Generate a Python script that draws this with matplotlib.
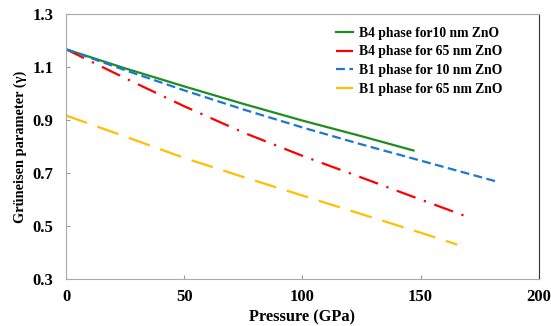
import numpy as np
import matplotlib
matplotlib.use("Agg")
import matplotlib.pyplot as plt

# valores
p_b4_10 = [0, 25, 50, 75, 100, 125, 147]
g_b4_10 = [1.167, 1.095, 1.027, 0.961, 0.898, 0.839, 0.785]

p_b4_65 = [0, 25, 50, 75, 100, 125, 150, 169.5]
g_b4_65 = [1.167, 1.058, 0.952, 0.853, 0.765, 0.683, 0.60, 0.536]

p_b1_10 = [0, 25, 50, 75, 100, 125, 150, 183]
g_b1_10 = [1.167, 1.088, 1.012, 0.94, 0.872, 0.808, 0.747, 0.666]

p_b1_65 = [0, 25, 50, 75, 100, 125, 150, 165.5]
g_b1_65 = [0.917, 0.838, 0.757, 0.685, 0.615, 0.545, 0.475, 0.43]

labels = ["B4 phase for10 nm ZnO", "B4 phase for 65 nm ZnO",
          "B1 phase for 10 nm ZnO", "B1 phase for 65 nm ZnO"]

plt.rcParams["font.family"] = ["Liberation Serif", "DejaVu Serif"]
plt.rcParams["font.weight"] = "bold"

fig = plt.figure(figsize=(5.51, 3.26), dpi=100)
ax = fig.add_axes([0.1198, 0.144, 0.858, 0.813])

ax.plot(p_b4_10, g_b4_10, color="#1e8c1e", lw=1.6, label=labels[0])
ax.plot(p_b4_65, g_b4_65, color="#ff0000", lw=1.6, dashes=(9, 4, 1, 4), label=labels[1])
ax.plot(p_b1_10, g_b1_10, color="#1a78d0", lw=1.6, dashes=(4, 2), label=labels[2])
ax.plot(p_b1_65, g_b1_65, color="#ffc000", lw=1.6, dashes=(10, 5), label=labels[3])

ax.set_xlim(0, 200)
ax.set_ylim(0.3, 1.3)
ax.set_xticks([0, 50, 100, 150, 200])
ax.set_yticks(np.arange(0.3, 1.31, 0.2))
ax.set_yticklabels(["0.3", "0.5", "0.7", "0.9", "1.1", "1.3"])
ax.tick_params(direction="in", length=3, labelsize=12, color="#999999")
ax.tick_params(axis="y", pad=9)
ax.tick_params(axis="x", pad=7)

for s in ["left", "bottom", "top"]:
    ax.spines[s].set_color("#aaaaaa")
ax.spines["right"].set_color("#333333")

ax.set_xlabel("Pressure (GPa)", fontsize=11.8, fontweight="bold", labelpad=3)
ax.set_ylabel("Grüneisen parameter (γ)", fontsize=10.4, fontweight="bold", labelpad=4)

ax.legend(loc="upper left", bbox_to_anchor=(0.571, 0.952), frameon=False,
          borderpad=0, borderaxespad=0, handlelength=1.25, handletextpad=0.45,
          labelspacing=0.42, prop={"weight": "bold", "size": 9.8})

fig.savefig("out.png", dpi=100)
